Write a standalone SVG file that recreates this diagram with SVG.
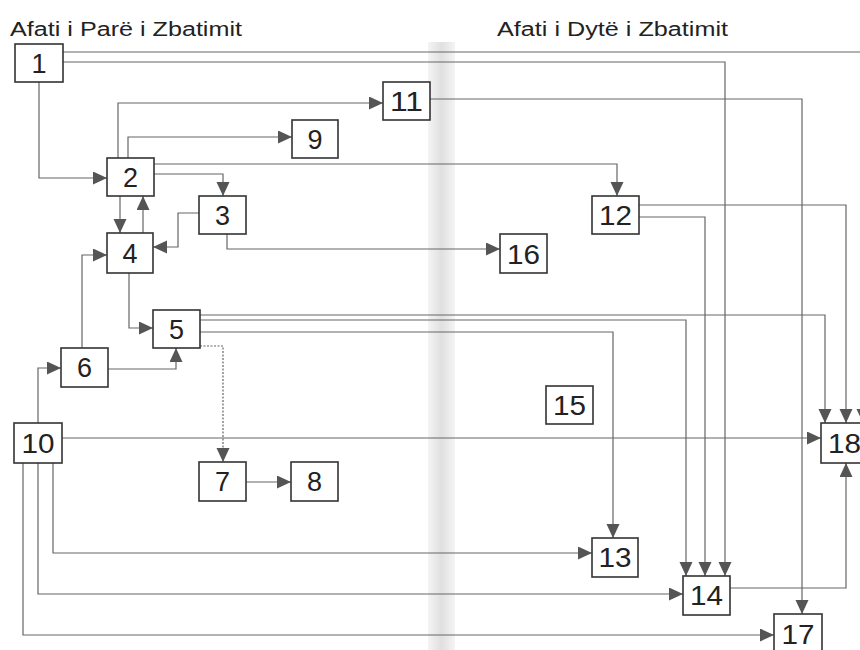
<svg xmlns="http://www.w3.org/2000/svg" width="860" height="650" viewBox="0 0 860 650">
<defs>
<linearGradient id="band" x1="0" y1="0" x2="1" y2="0">
<stop offset="0" stop-color="#f4f4f4"/>
<stop offset="0.5" stop-color="#e0e0e0"/>
<stop offset="1" stop-color="#f4f4f4"/>
</linearGradient>
<marker id="a" markerUnits="userSpaceOnUse" markerWidth="15" markerHeight="14" refX="14" refY="6.5" orient="auto">
<path d="M0,0 L14,6.5 L0,13 z" fill="#555"/>
</marker>
<style>
.c{fill:none;stroke:#666;stroke-width:1.2;marker-end:url(#a)}
.d{stroke-dasharray:2,1.5}
.b{fill:#fff;stroke:#333;stroke-width:1.6}
.t{font-family:"Liberation Sans",Arial,sans-serif;font-size:27px;fill:#222;text-anchor:middle}
.h{font-family:"Liberation Sans",Arial,sans-serif;font-size:20px;fill:#222}
</style>
</defs>
<rect width="860" height="650" fill="#fff"/>
<rect x="428" y="42" width="27" height="608" fill="url(#band)"/>
<text class="h" x="10" y="36" textLength="232" lengthAdjust="spacingAndGlyphs">Afati i Parë i Zbatimit</text>
<text class="h" x="497" y="36" textLength="231" lengthAdjust="spacingAndGlyphs">Afati i Dytë i Zbatimit</text>
<g id="connectors">
<path class="c" d="M63,52 H863 V423"/>
<path class="c" d="M63,62 H725 V576"/>
<path class="c" d="M39,82 V178 H107"/>
<path class="c" d="M118,158 V103 H383"/>
<path class="c" d="M128,158 V137 H292"/>
<path class="c" d="M154,164 H617 V196"/>
<path class="c" d="M154,174 H223 V196"/>
<path class="c" d="M120,196 V233"/>
<path class="c" d="M143,233 V196"/>
<path class="c" d="M199,213 H178 V247 H153"/>
<path class="c" d="M227,234 V249 H500"/>
<path class="c" d="M82,348 V255 H107"/>
<path class="c" d="M129,273 V328 H153"/>
<path class="c" d="M108,369 H176 V348"/>
<path class="c" d="M38,423 V368 H61"/>
<path class="c d" d="M200,346 H223 V462"/>
<path class="c" d="M246,482 H291"/>
<path class="c" d="M200,315 H825 V423"/>
<path class="c" d="M200,320 H686 V576"/>
<path class="c" d="M200,332 H613 V538"/>
<path class="c" d="M639,205 H846 V423"/>
<path class="c" d="M639,217 H705 V576"/>
<path class="c" d="M430,99 H802 V614"/>
<path class="c" d="M62,438 H821"/>
<path class="c" d="M53,463 V553 H592"/>
<path class="c" d="M38,463 V594 H683"/>
<path class="c" d="M23,463 V635 H774"/>
<path class="c" d="M730,588 H846 V463"/>
</g>
<g id="n1"><rect class="b" x="15" y="44" width="48" height="38"/><text class="t" x="39" y="73">1</text></g>
<g id="n2"><rect class="b" x="107" y="158" width="47" height="38"/><text class="t" x="130.5" y="187">2</text></g>
<g id="n3"><rect class="b" x="199" y="196" width="47" height="38"/><text class="t" x="222.5" y="225">3</text></g>
<g id="n4"><rect class="b" x="107" y="233" width="46" height="40"/><text class="t" x="130" y="263">4</text></g>
<g id="n5"><rect class="b" x="153" y="310" width="47" height="38"/><text class="t" x="176.5" y="339">5</text></g>
<g id="n6"><rect class="b" x="61" y="348" width="47" height="39"/><text class="t" x="84.5" y="377">6</text></g>
<g id="n7"><rect class="b" x="199" y="462" width="47" height="39"/><text class="t" x="222.5" y="491">7</text></g>
<g id="n8"><rect class="b" x="291" y="462" width="47" height="39"/><text class="t" x="314.5" y="491">8</text></g>
<g id="n9"><rect class="b" x="292" y="120" width="46" height="38"/><text class="t" x="315" y="149">9</text></g>
<g id="n10"><rect class="b" x="14" y="423" width="48" height="40"/><text class="t" x="38" y="453" textLength="33" lengthAdjust="spacingAndGlyphs">10</text></g>
<g id="n11"><rect class="b" x="383" y="82" width="47" height="38"/><text class="t" x="406.5" y="111" textLength="33" lengthAdjust="spacingAndGlyphs">11</text></g>
<g id="n12"><rect class="b" x="592" y="196" width="47" height="38"/><text class="t" x="615.5" y="225" textLength="33" lengthAdjust="spacingAndGlyphs">12</text></g>
<g id="n13"><rect class="b" x="592" y="538" width="46" height="39"/><text class="t" x="615" y="567" textLength="33" lengthAdjust="spacingAndGlyphs">13</text></g>
<g id="n14"><rect class="b" x="683" y="576" width="47" height="39"/><text class="t" x="706.5" y="605" textLength="33" lengthAdjust="spacingAndGlyphs">14</text></g>
<g id="n15"><rect class="b" x="546" y="386" width="47" height="38"/><text class="t" x="569.5" y="415" textLength="33" lengthAdjust="spacingAndGlyphs">15</text></g>
<g id="n16"><rect class="b" x="500" y="234" width="47" height="39"/><text class="t" x="523.5" y="264" textLength="33" lengthAdjust="spacingAndGlyphs">16</text></g>
<g id="n17"><rect class="b" x="774" y="614" width="48" height="40"/><text class="t" x="798" y="644" textLength="33" lengthAdjust="spacingAndGlyphs">17</text></g>
<g id="n18"><rect class="b" x="821" y="423" width="47" height="40"/><text class="t" x="844.5" y="453" textLength="33" lengthAdjust="spacingAndGlyphs">18</text></g>
</svg>
